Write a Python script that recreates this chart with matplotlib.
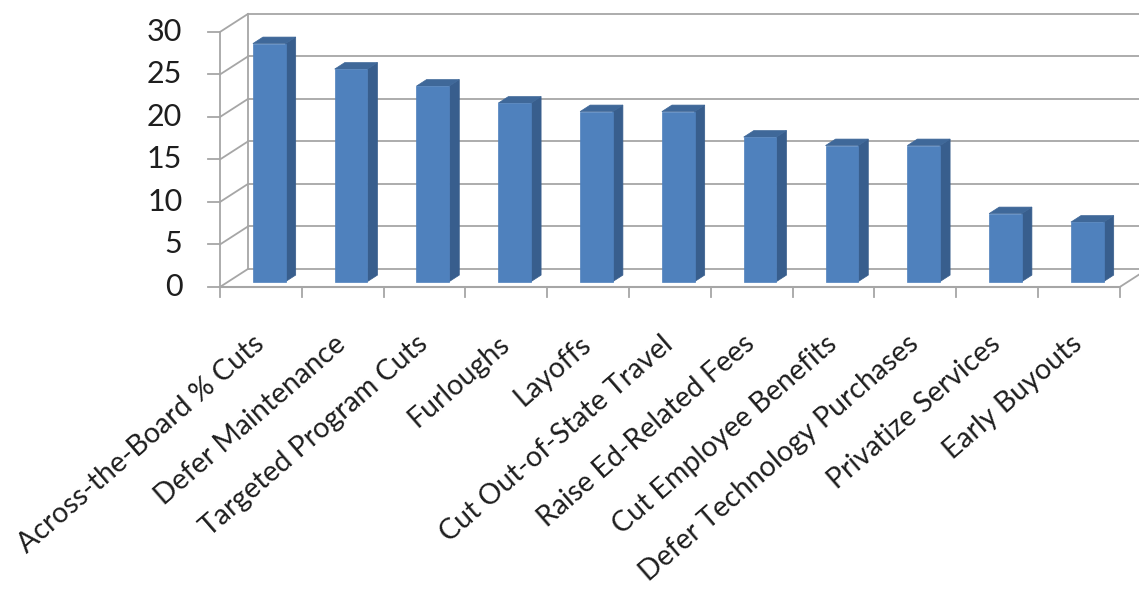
import matplotlib
matplotlib.use('Agg')
import numpy as np
import matplotlib.pyplot as plt
from matplotlib.patches import Polygon, Rectangle

plt.rcParams['font.family'] = ['Lato', 'DejaVu Sans']

categories = ['Across-the-Board % Cuts', 'Defer Maintenance', 'Targeted Program Cuts',
              'Furloughs', 'Layoffs', 'Cut Out-of-State Travel', 'Raise Ed-Related Fees',
              'Cut Employee Benefits', 'Defer Technology Purchases', 'Privatize Services',
              'Early Buyouts']
values = [28, 25, 23, 21, 20, 20, 17, 16, 16, 8, 7]
y_ticks = [0, 5, 10, 15, 20, 25, 30]

# depth of the fake 3d box in data units (x in categories, y in value units)
DX, DY = 0.342, 2.12
BAR_W = 0.40
BAR_D0, BAR_D1 = 0.30, 0.66

FRONT = '#4F81BD'
SIDE = '#385E8D'
TOP = '#3F6899'
GRID = '#A6A6A6'


def draw_walls(ax, n):
    left, right = -0.5, n - 0.5
    top = y_ticks[-1]
    for v in y_ticks:
        # back wall grid line and its diagonal on the side wall
        ax.plot([left + DX, right + DX], [v + DY, v + DY], color=GRID, lw=1.3, zorder=1)
        ax.plot([left, left + DX], [v, v + DY], color=GRID, lw=1.3, zorder=1)
        # tick marks on the value axis
        ax.plot([left - 0.15, left], [v, v], color=GRID, lw=1.3, zorder=1)
    ax.plot([left + DX, left + DX], [DY, top + DY], color=GRID, lw=1.3, zorder=1)
    ax.plot([left, left], [0, top], color=GRID, lw=1.3, zorder=1)
    # floor
    ax.plot([left, right], [0, 0], color=GRID, lw=1.5, zorder=1)
    ax.plot([right, right + DX], [0, DY], color=GRID, lw=1.3, zorder=1)
    for i in range(n + 1):
        ax.plot([i - 0.5, i - 0.5], [0, -1.2], color=GRID, lw=1.3, zorder=1)


def draw_bar(ax, i, v):
    x0 = i - BAR_W / 2 + BAR_D0 * DX
    y0 = BAR_D0 * DY
    ddx = (BAR_D1 - BAR_D0) * DX
    ddy = (BAR_D1 - BAR_D0) * DY
    side = [(x0 + BAR_W, y0), (x0 + BAR_W + ddx, y0 + ddy),
            (x0 + BAR_W + ddx, y0 + ddy + v), (x0 + BAR_W, y0 + v)]
    top = [(x0, y0 + v), (x0 + BAR_W, y0 + v),
           (x0 + BAR_W + ddx, y0 + v + ddy), (x0 + ddx, y0 + v + ddy)]
    ax.add_patch(Polygon(side, closed=True, facecolor=SIDE, edgecolor=SIDE, lw=0.5, zorder=3))
    ax.add_patch(Polygon(top, closed=True, facecolor=TOP, edgecolor=TOP, lw=0.5, zorder=3))
    ax.add_patch(Rectangle((x0, y0), BAR_W, v, facecolor=FRONT, edgecolor=FRONT, lw=0.5, zorder=4))


fig = plt.figure(figsize=(11.39, 5.92), dpi=100)
ax = fig.add_axes([0, 0, 1, 1])
ax.set_xlim(-3.189, 10.735)
ax.set_ylim(-35.88, 33.76)
ax.axis('off')

n = len(categories)
draw_walls(ax, n)

for i, v in enumerate(values):
    draw_bar(ax, i, v)

for v in y_ticks:
    ax.text(-0.96, v, str(v), ha='right', va='center', fontsize=22, color='#1e1e1e')

for i, label in enumerate(categories):
    ax.text(i + 0.06, -7.0, label, rotation=41, rotation_mode='anchor',
            ha='right', va='baseline', fontsize=20.5, color='#1e1e1e')

plt.savefig('out.png', dpi=100, facecolor='white')
